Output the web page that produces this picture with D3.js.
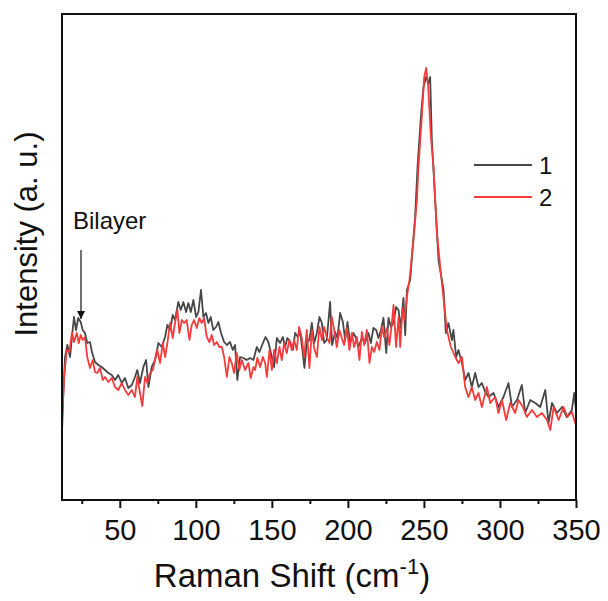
<!DOCTYPE html>
<html>
<head>
<meta charset="utf-8">
<script src="https://cdn.jsdelivr.net/npm/d3@7"></script>
<style>
  body { margin: 0; background: #fff; }
  svg { display: block; font-family: "Liberation Sans", Arial, sans-serif; }
</style>
</head>
<body>
<div id="chart"></div>
<script>
// raman spectra, two samples

// sample 1 (dark grey)
const shift1 = [12,12.7,14,15.5,17.3,19,19.9,21.2,22.7,24.3,25.6,27.1,28.6,30.4,31.7,33.7,35.9,38.1,40.3,42.5,44.7,46.9,49,51.3,53.4,55.6,57.9,60,61.5,63.3,65.5,67.3,68.8,71,73.2,75.4,77.6,79.8,81.3,83.1,84.8,86.3,88.5,90.1,91.8,93.6,95.1,96.7,98.4,100.2,101.7,103.4,105,106.7,108.3,109.8,111.5,113.3,114.8,116.6,118.6,120.4,122.5,124.3,125.8,127.3,129.1,131.3,133.5,135.7,137.9,140.1,141.8,144.4,145.8,147.7,150,151.5,153.3,155.4,157.2,158.7,160.2,162,163.8,165.3,167.1,168.6,170.1,171.4,173,174.7,176.3,177.8,179.6,181.3,182.9,184.4,186.1,188.3,189.6,191.6,193.1,194.9,196.7,198.2,199.7,201.5,203.6,205.4,206.9,209.2,211.3,213.5,215.1,216.8,218.6,220.1,221.7,223.4,225.2,226.7,228.3,230,231.7,233.3,234.8,236.5,237.7,238.8,241,242.1,244.2,245.8,248,249.7,251.5,253,254.1,255.2,257.4,259.6,262.9,264.4,266.1,268.4,269.4,271.2,272.7,275,277.1,279.3,281.5,283.7,285.9,288.1,290.3,292.5,295.8,299,302.3,305.6,307.9,311.2,314.4,316.6,319.9,323.2,326.5,329.8,331.9,334.2,337.5,340.8,344,347.3,348.8,350];
const int1 = [67,100,143,155,143,170,183,170,182,178,170,167,157,158,148,138,135,133,130,127,125,120,125,117,122,112,115,123,130,117,133,140,113,133,140,157,153,163,175,170,185,180,198,190,198,188,197,188,200,183,188,210,183,187,177,183,170,173,178,167,158,155,158,150,155,120,143,142,140,142,140,153,148,158,163,158,143,133,162,157,163,153,162,158,150,167,163,168,150,132,158,160,177,157,167,183,177,157,160,198,155,168,162,187,178,160,178,157,167,162,153,162,157,167,157,172,170,162,170,182,147,182,173,177,193,190,172,202,165,210,220,243,283,333,383,413,423,417,423,360,300,240,210,167,177,160,170,143,150,137,120,127,113,127,113,117,108,103,107,93,103,117,93,100,115,87,100,97,93,110,77,97,87,93,83,90,107,90];

// sample 2 (red)
const shift2 = [12,13.3,15.1,16.8,18.6,19.9,21.7,23,24.3,25.6,27.1,28.6,30.4,32.2,33.7,35.2,37,38.8,40.3,42.5,44.7,46.9,49,51.3,53.4,55.6,57.9,60,61.5,63.3,64.8,66.6,68.1,69.9,71.7,73.2,74.7,76.5,78.3,79.8,81.3,83.1,84.8,86.3,87.9,89.2,90.8,92.3,94,95.8,97.3,98.8,100.6,102.3,103.9,105.4,107.2,108.9,110.5,112,113.8,115.5,117.1,118.6,120.4,122.1,123.6,125.2,126.9,128.6,130.2,132.4,134.6,136.1,137.9,139,140.5,142.3,144.1,145.6,146.7,148.5,150,151.5,153.3,155,156.5,158.1,159.8,161.5,163.1,164.6,166.4,167.9,169.7,171.2,173,174.7,176.3,177.8,179.6,181.3,182.9,184.4,186.1,187.9,189.4,191,192.7,194.4,196,197.5,199.3,201,202.6,204.1,205.9,207.6,209.2,210.7,212.5,214.2,215.8,217.3,219,220.8,222.3,223.8,225.6,227.3,228.9,230,231.7,233.3,234.4,235.9,237.2,238.8,240.5,243.1,245.4,246.4,248.6,250.2,251.5,252.8,254.6,256.3,258.5,261.8,265.1,267.7,270.6,272.7,275,277.1,279.3,281.5,283.7,285.9,288.1,291.4,293.6,296.9,299,301.3,304.1,306.7,310,312.2,315.1,317.7,321,324.3,327.6,330.9,333.1,335.3,338.6,341.8,344.4,347.3,349.5,350];
const int2 = [80,120,150,148,167,158,167,157,165,160,163,143,132,140,128,127,132,120,123,118,122,113,110,117,110,105,110,103,123,107,94,123,117,127,130,140,150,137,157,143,157,177,162,177,190,167,180,177,180,160,175,180,172,182,177,182,163,158,165,155,158,153,153,143,123,143,137,127,147,130,140,130,137,122,133,130,142,133,143,137,123,150,130,150,137,153,140,157,147,160,150,160,150,173,162,143,170,132,170,152,143,173,160,173,163,157,183,170,153,170,162,155,172,150,167,153,163,140,168,155,170,137,153,148,158,150,173,163,172,155,177,195,153,183,153,192,180,203,220,260,300,333,383,423,432,413,363,333,267,217,170,153,143,137,143,113,103,113,100,107,93,113,97,103,87,100,80,97,87,100,93,83,90,83,87,80,70,93,80,93,83,88,77,80];

const xTicks = [50, 100, 150, 200, 250, 300, 350];
const xMinorTicks = [25, 75, 125, 175, 225, 275, 325];
const seriesNames = ["1", "2"];
const seriesColors = ["#474747", "#f53b3b"];

const W = 608, H = 601;
const margin = { top: 14, right: 32, bottom: 101, left: 62 };
const plotW = W - margin.left - margin.right;
const plotH = H - margin.top - margin.bottom;

const svg = d3.select("#chart").append("svg")
  .attr("width", W)
  .attr("height", H);

const x = d3.scaleLinear().domain([12, 350]).range([margin.left, margin.left + plotW]);
const y = d3.scaleLinear().domain([0, 486]).range([margin.top + plotH, margin.top]);

// clip so the curves stay inside the frame
svg.append("clipPath").attr("id", "plot-clip")
  .append("rect")
  .attr("x", margin.left).attr("y", margin.top)
  .attr("width", plotW).attr("height", plotH);

const line = d3.line().x(d => x(d[0])).y(d => y(d[1]));

const series = [
  d3.zip(shift1, int1),
  d3.zip(shift2, int2)
];

const plot = svg.append("g").attr("clip-path", "url(#plot-clip)");
series.forEach((pts, i) => {
  plot.append("path")
    .datum(pts)
    .attr("fill", "none")
    .attr("stroke", seriesColors[i])
    .attr("stroke-width", 1.8)
    .attr("stroke-linejoin", "round")
    .attr("d", line);
});

// frame
svg.append("rect")
  .attr("x", margin.left).attr("y", margin.top)
  .attr("width", plotW).attr("height", plotH)
  .attr("fill", "none")
  .attr("stroke", "#111")
  .attr("stroke-width", 2);

// bottom axis: major ticks with labels, minor ticks without
const xAxis = svg.append("g")
  .attr("transform", `translate(0,${margin.top + plotH})`)
  .call(d3.axisBottom(x).tickValues(xTicks).tickSize(8).tickPadding(11));
xAxis.select(".domain").remove();
xAxis.selectAll(".tick line").attr("stroke", "#111").attr("stroke-width", 2);
xAxis.selectAll(".tick text")
  .attr("font-family", "'Liberation Sans', Arial, sans-serif")
  .attr("font-size", 29)
  .attr("fill", "#111");

const xMinor = svg.append("g")
  .attr("transform", `translate(0,${margin.top + plotH})`)
  .call(d3.axisBottom(x).tickValues(xMinorTicks).tickSize(4).tickFormat(""));
xMinor.select(".domain").remove();
xMinor.selectAll(".tick line").attr("stroke", "#111").attr("stroke-width", 2);

// axis titles
const xTitle = svg.append("text")
  .attr("x", 292)
  .attr("y", 587)
  .attr("text-anchor", "middle")
  .attr("font-size", 33)
  .attr("fill", "#111");
xTitle.append("tspan").text("Raman Shift (cm");
xTitle.append("tspan").attr("font-size", 22).attr("dy", -13).text("-1");
xTitle.append("tspan").attr("dy", 13).text(")");

svg.append("text")
  .attr("transform", "translate(37,234) rotate(-90)")
  .attr("text-anchor", "middle")
  .attr("font-size", 31)
  .attr("fill", "#111")
  .text("Intensity (a. u.)");

// legend
const legend = svg.append("g");
seriesNames.forEach((name, i) => {
  const ly = 165 + i * 32;
  legend.append("line")
    .attr("x1", 474).attr("x2", 532)
    .attr("y1", ly).attr("y2", ly)
    .attr("stroke", seriesColors[i])
    .attr("stroke-width", 2);
  legend.append("text")
    .attr("x", 539)
    .attr("y", ly + 9)
    .attr("font-size", 24)
    .attr("fill", "#111")
    .text(name);
});

// bilayer annotation
svg.append("defs").append("marker")
  .attr("id", "arrow-head")
  .attr("viewBox", "0 0 10 10")
  .attr("refX", 10).attr("refY", 5)
  .attr("markerWidth", 10).attr("markerHeight", 8)
  .attr("markerUnits", "userSpaceOnUse")
  .attr("orient", "auto")
  .append("path")
  .attr("d", "M0,0 L10,5 L0,10 Z")
  .attr("fill", "#111");

const arrowX = 24.5;
svg.append("line")
  .attr("x1", x(arrowX)).attr("x2", x(arrowX))
  .attr("y1", 250).attr("y2", 319)
  .attr("stroke", "#111")
  .attr("stroke-width", 1.2)
  .attr("marker-end", "url(#arrow-head)");

svg.append("text")
  .attr("x", 73)
  .attr("y", 229)
  .attr("font-size", 24)
  .attr("fill", "#111")
  .text("Bilayer");
</script>
</body>
</html>
